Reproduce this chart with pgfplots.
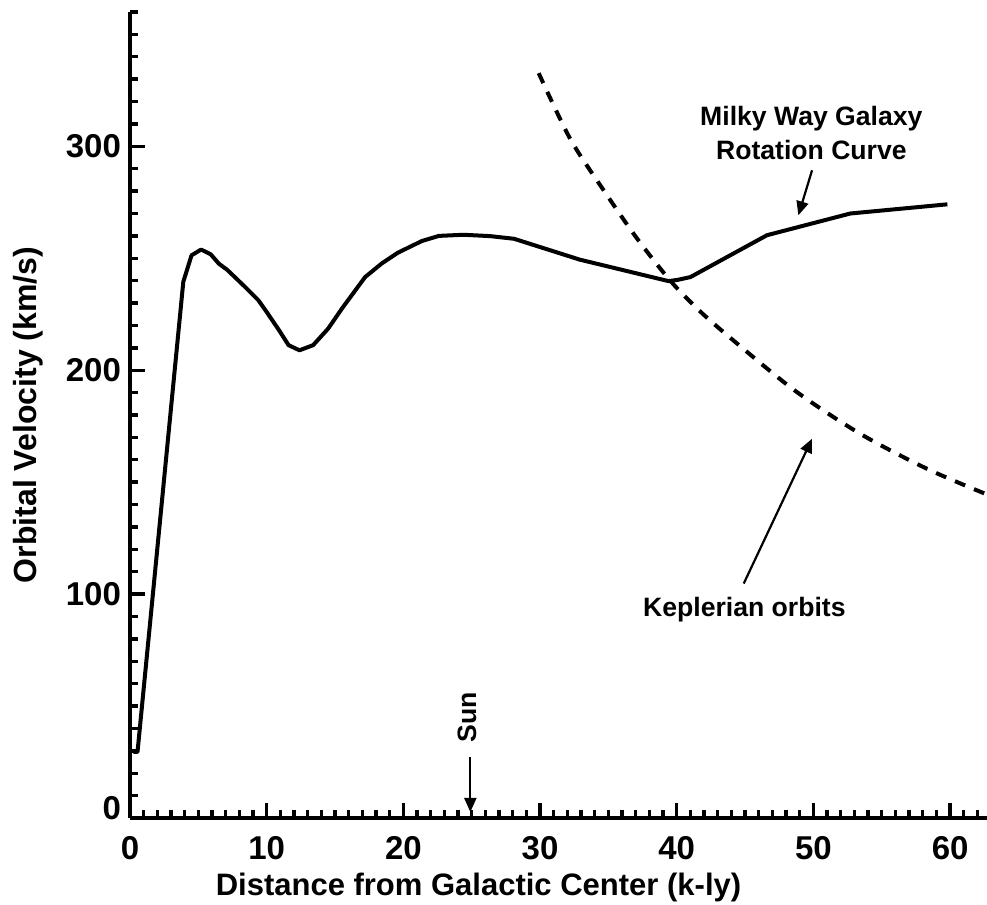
\documentclass[border=0pt]{standalone}
\usepackage{fontspec}
\setmainfont{Liberation Sans}
\usepackage{pgfplots}
\pgfplotsset{compat=1.18}
\usetikzlibrary{arrows.meta}

\newcommand{\lblfont}{\bfseries\fontsize{15.5}{18}\selectfont}
\newcommand{\tickfont}{\bfseries\fontsize{16.5}{19}\selectfont}
\newcommand{\notefont}{\bfseries\fontsize{13.3}{17}\selectfont}

\pgfplotsset{
  every tick/.style={black, line width=1.7pt},
  every major tick/.style={black, line width=1.7pt},
  every minor tick/.style={black, line width=1.7pt},
}

\begin{document}
\begin{tikzpicture}
\begin{axis}[
  name=ax,
  scale only axis,
  width=428.5pt, height=403pt,
  xmin=0, xmax=62.7, ymin=0, ymax=360,
  axis x line=bottom, axis y line=left,
  every outer x axis line/.append style={-, line width=2.2pt},
  every outer y axis line/.append style={-, line width=2.2pt},
  axis line style={-, line width=2.2pt},
  xtick={0,10,...,60}, minor xtick={1,...,62},
  ytick={0,100,200,300}, minor ytick={10,20,...,360},
  yticklabels={\raisebox{10pt}{0},100,200,300},
  tick align=inside,
  major tick length=7.5pt, minor tick length=3.8pt,
  tick style={black, line width=1.7pt},
  /pgf/number format/assume math mode=true,
  ticklabel style={font=\tickfont},
  xticklabel style={yshift=-5.5pt},
  yticklabel style={xshift=-1pt},
  xlabel={Distance from Galactic Center (k-ly)},
  ylabel={Orbital Velocity (km/s)},
  every axis x label/.style={at={(axis description cs:0.4067,-0.0856)}, anchor=center, font=\lblfont},
  every axis y label/.style={at={(axis description cs:-0.119,0.5)}, anchor=center, rotate=90, font=\bfseries\fontsize{16}{19}\selectfont},
  clip=false,
]
% rotation curve
\addplot[black, line width=2pt, line join=round] coordinates {
  (0.25,29.5) (0.55,29.5) (3.9,239.5) (4.5,251.3) (5.2,253.9) (5.9,251.8)
  (6.5,247.6) (7.1,244.9) (8.3,237.9) (9.4,231.2) (10.0,226.0) (10.9,217.9)
  (11.6,211.2) (12.4,208.9) (13.4,211.2) (14.5,218.6) (15.5,227.5) (17.2,241.6)
  (18.4,247.6) (19.6,252.5) (21.35,257.7) (22.6,260.0) (24.4,260.5) (26.35,259.9)
  (28.1,258.7) (32.9,249.4) (39.4,239.8) (40.1,240.4) (41.0,241.6) (46.6,260.3)
  (52.7,270.0) (59.8,274.1)
};
% keplerian
\addplot[black, line width=2pt, smooth, dash pattern=on 5.5pt off 4.8pt] coordinates {
  (29.9,332.7) (32.2,303.4) (34.65,280.4) (37.1,258.8) (39.5,240.2) (41.5,227.5)
  (43.7,215.6) (48.6,191.1) (53.4,171.7) (58.3,156.0) (62.7,144.5)
};
% annotations
\draw[line width=1.1pt, -{Triangle[length=7pt,width=6pt]}] (axis cs:24.9,27.2) -- (axis cs:24.9,2.7);
\node[rotate=90, anchor=center, font=\notefont] at (axis cs:24.65,45) {Sun};
\node[align=center, anchor=center, font=\notefont] at (axis cs:49.85,306) {Milky Way Galaxy\\Rotation Curve};
\draw[line width=1.1pt, -{Triangle[length=7pt,width=6pt]}] (axis cs:49.9,289.3) -- (axis cs:48.9,269.2);
\node[anchor=center, font=\notefont] at (axis cs:44.95,92.9) {Keplerian orbits};
\draw[line width=1.1pt, -{Triangle[length=7pt,width=6pt]}] (axis cs:44.9,104.7) -- (axis cs:49.9,169.4);
\end{axis}
\pgfresetboundingbox
\useasboundingbox ([shift={(-65pt,-43pt)}]ax.south west) rectangle ([shift={(0pt,6pt)}]ax.north east);
\end{tikzpicture}
\end{document}
